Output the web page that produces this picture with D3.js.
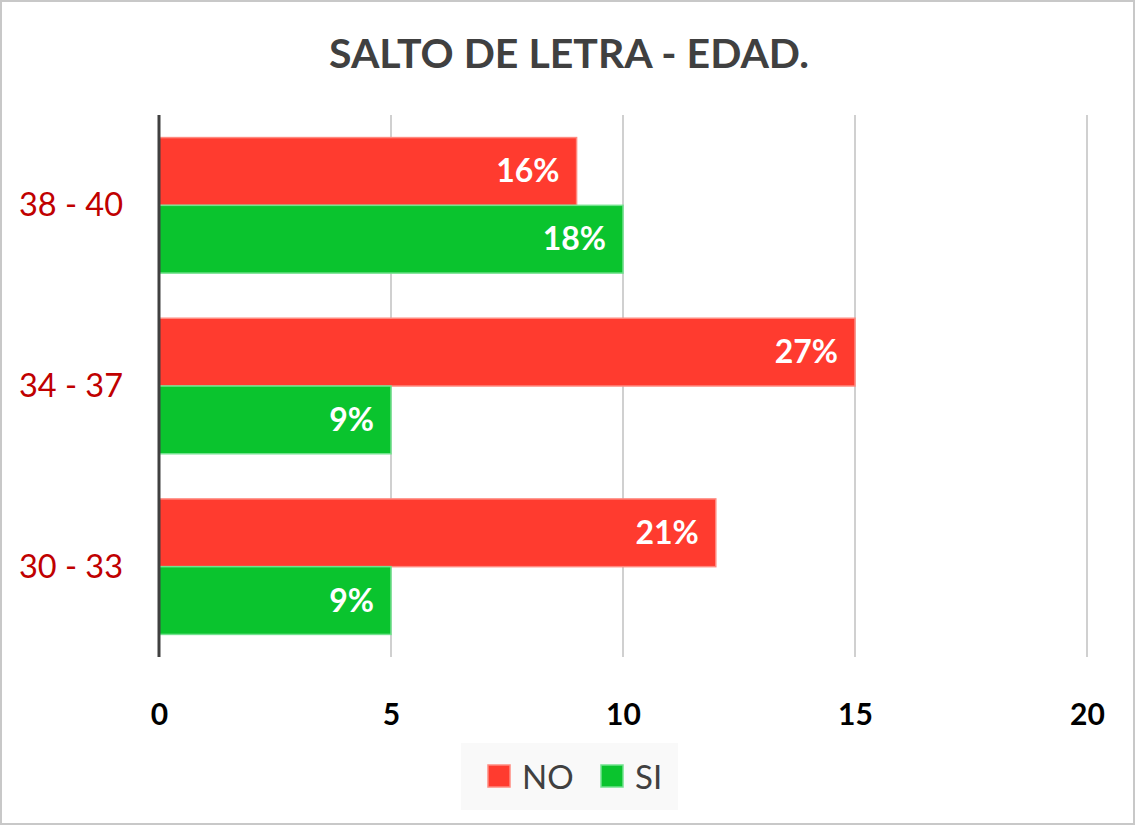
<!doctype html>
<html lang="es">
<head>
  <meta charset="utf-8">
  <title>Salto de letra - edad</title>
  <style>
    * { margin: 0; padding: 0; box-sizing: border-box; }
    body { background: #fff; }
    #chart { width: 1136px; height: 825px; }
    text { font-family: Lato, "Open Sans", sans-serif; }
  </style>
</head>
<body>
  <div id="chart"></div>
  <script src="https://cdn.jsdelivr.net/npm/d3@7"></script>
  <script>
    const categories = ['38 - 40', '34 - 37', '30 - 33'];
    const series = ['NO', 'SI'];
    const noValues = [9, 15, 12];
    const siValues = [10, 5, 5];
    const noLabels = ['16%', '27%', '21%'];
    const siLabels = ['18%', '9%', '9%'];
    const xTicks = [0, 5, 10, 15, 20];

    const colors = { NO: '#ff3b2f', SI: '#0ac42e' };
    const strokes = { NO: '#ff8a80', SI: '#72e28e' };

    const W = 1136, H = 825;
    const m = { left: 159, right: 49, top: 115, bottom: 168 };

    const svg = d3.select('#chart').append('svg')
      .attr('width', W).attr('height', H);

    svg.append('rect')
      .attr('x', 1).attr('y', 1).attr('width', W - 3).attr('height', H - 2)
      .attr('fill', '#fff').attr('stroke', '#c8c8c8').attr('stroke-width', 2);

    svg.append('text')
      .attr('x', 569).attr('y', 68)
      .attr('text-anchor', 'middle')
      .attr('font-size', 41).attr('font-weight', 'bold')
      .attr('fill', '#404040')
      .text('SALTO DE LETRA - EDAD.');

    const x = d3.scaleLinear().domain([0, 20]).range([m.left, W - m.right]);
    const y = d3.scaleBand().domain(categories)
      .range([m.top, H - m.bottom]).paddingInner(0.25).paddingOuter(0.125);
    const ySub = d3.scaleBand().domain(series).range([0, y.bandwidth()]);

    // grid
    svg.append('g').selectAll('line').data(xTicks.filter(d => d > 0)).join('line')
      .attr('x1', d => x(d)).attr('x2', d => x(d))
      .attr('y1', m.top).attr('y2', H - m.bottom)
      .attr('stroke', '#d0d0d0').attr('stroke-width', 2);

    const rows = categories.map((c, i) => ({
      cat: c,
      bars: [
        { s: 'NO', v: noValues[i], l: noLabels[i] },
        { s: 'SI', v: siValues[i], l: siLabels[i] }
      ]
    }));

    const groups = svg.append('g').selectAll('g').data(rows).join('g')
      .attr('transform', d => `translate(0,${y(d.cat)})`);

    groups.selectAll('rect').data(d => d.bars).join('rect')
      .attr('x', x(0))
      .attr('y', d => ySub(d.s))
      .attr('width', d => x(d.v) - x(0))
      .attr('height', ySub.bandwidth())
      .attr('fill', d => colors[d.s])
      .attr('stroke', d => strokes[d.s]).attr('stroke-width', 1.5);

    groups.selectAll('text').data(d => d.bars).join('text')
      .attr('x', d => x(d.v) - 17)
      .attr('y', d => ySub(d.s) + ySub.bandwidth() / 2 + 11)
      .attr('text-anchor', 'end')
      .attr('font-size', 32).attr('font-weight', 'bold')
      .attr('fill', '#fff')
      .text(d => d.l);

    // category labels
    svg.append('g').selectAll('text').data(categories).join('text')
      .attr('x', 123)
      .attr('y', d => y(d) + y.bandwidth() / 2 + 11)
      .attr('text-anchor', 'end')
      .attr('font-size', 32.5)
      .attr('fill', '#c00000')
      .text(d => d);

    // value axis
    const xAxis = svg.append('g')
      .attr('transform', `translate(0,${H - m.bottom})`)
      .call(d3.axisBottom(x).tickValues(xTicks).tickSize(0).tickPadding(47));
    xAxis.select('.domain').remove();
    xAxis.selectAll('text')
      .attr('font-family', 'Lato, sans-serif')
      .attr('font-size', 30).attr('font-weight', 'bold').attr('fill', '#000');

    // category axis line
    svg.append('line')
      .attr('x1', x(0)).attr('x2', x(0))
      .attr('y1', m.top).attr('y2', H - m.bottom)
      .attr('stroke', '#404040').attr('stroke-width', 3);

    // legend
    const lg = svg.append('g');
    lg.append('rect')
      .attr('x', 461).attr('y', 743).attr('width', 217).attr('height', 67)
      .attr('fill', '#f9f9f9');
    const items = [{ s: 'NO', x: 488 }, { s: 'SI', x: 601 }];
    items.forEach(it => {
      lg.append('rect')
        .attr('x', it.x).attr('y', 765).attr('width', 22).attr('height', 22)
        .attr('fill', colors[it.s]).attr('stroke', strokes[it.s]).attr('stroke-width', 1.5);
      lg.append('text')
        .attr('x', it.x + 34).attr('y', 789)
        .attr('font-size', 33).attr('fill', '#404040')
        .text(it.s);
    });
  </script>
</body>
</html>
